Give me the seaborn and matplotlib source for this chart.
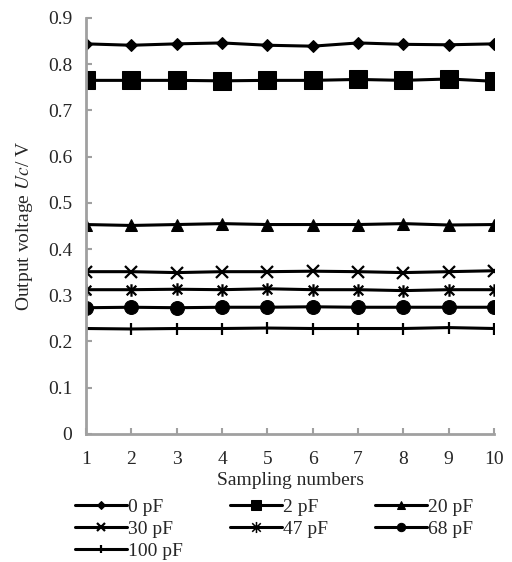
import numpy as np
import seaborn as sns
import matplotlib.pyplot as plt
from matplotlib.path import Path

sns.set_style("white")
plt.rcParams["font.family"] = ["Liberation Serif", "DejaVu Serif"]
plt.rcParams["mathtext.fontset"] = "stix"

samples = np.arange(1, 11)
labels = ["0 pF", "2 pF", "20 pF", "30 pF", "47 pF", "68 pF", "100 pF"]
v_0pf = [0.844, 0.841, 0.844, 0.846, 0.841, 0.839, 0.846, 0.843, 0.842, 0.844]
v_2pf = [0.765, 0.765, 0.765, 0.764, 0.765, 0.765, 0.767, 0.765, 0.768, 0.763]
v_20pf = [0.453, 0.451, 0.453, 0.455, 0.453, 0.453, 0.453, 0.455, 0.452, 0.453]
v_30pf = [0.351, 0.351, 0.349, 0.351, 0.351, 0.352, 0.351, 0.349, 0.351, 0.353]
v_47pf = [0.312, 0.312, 0.313, 0.312, 0.314, 0.312, 0.312, 0.310, 0.312, 0.312]
v_68pf = [0.273, 0.274, 0.273, 0.274, 0.274, 0.275, 0.274, 0.274, 0.274, 0.274]
v_100pf = [0.228, 0.227, 0.228, 0.228, 0.229, 0.228, 0.228, 0.228, 0.230, 0.228]
series = [v_0pf, v_2pf, v_20pf, v_30pf, v_47pf, v_68pf, v_100pf]

# excel-style asterisk: an x with a vertical stroke
asterisk = Path(
    [(-1, -1), (1, 1), (-1, 1), (1, -1), (0, -1.3), (0, 1.3)],
    [Path.MOVETO, Path.LINETO, Path.MOVETO, Path.LINETO, Path.MOVETO, Path.LINETO],
)
styles = [
    dict(marker="D", markersize=6.5),
    dict(marker="s", markersize=13),
    dict(marker="^", markersize=9),
    dict(marker="x", markersize=9, markeredgewidth=1.6),
    dict(marker=asterisk, markersize=9, markeredgewidth=1.6),
    dict(marker="o", markersize=10),
    dict(marker="|", markersize=9, markeredgewidth=1.6),
]

fig, ax = plt.subplots(figsize=(5.12, 5.62), dpi=100)
fig.subplots_adjust(left=0.168, right=0.965, top=0.968, bottom=0.228)

for vals, lab, st in zip(series, labels, styles):
    sns.lineplot(x=samples, y=vals, color="black", linewidth=2.2, label=lab,
                 markeredgecolor="black", ax=ax, **st)

ax.set_xlim(1, 10)
ax.set_ylim(0, 0.9)
ax.set_xticks(samples)
ax.set_yticks(np.arange(0, 0.91, 0.1))
ax.set_yticklabels(["0"] + [f"{t:.1f}" for t in np.arange(0.1, 0.91, 0.1)])
ax.tick_params(direction="in", length=4, width=1.5, color="#a0a0a0",
               labelsize=14, pad=10, left=True, bottom=True)
ax.tick_params(axis="x", pad=12)
for side in ["top", "right"]:
    ax.spines[side].set_visible(False)
for side in ["left", "bottom"]:
    ax.spines[side].set_color("#a0a0a0")
    ax.spines[side].set_linewidth(2)

ax.set_xlabel("Sampling numbers", fontsize=14, labelpad=3)
ax.set_ylabel("Output voltage $Uc$/ V", fontsize=14, labelpad=9)

# legend fills column by column, reorder so it reads row by row
ax.get_legend().remove()
handles, labs = ax.get_legend_handles_labels()
order = [0, 3, 6, 1, 4, 2, 5]
leg = fig.legend([handles[i] for i in order], [labs[i] for i in order],
                 loc="upper left", bbox_to_anchor=(0.146, 0.113),
                 ncol=3, frameon=False, fontsize=14, handlelength=2.7, handletextpad=0.05,
                 columnspacing=2.4, labelspacing=0.22, markerscale=0.6,
                 borderaxespad=0, borderpad=0)
# the thin asterisk gets lost when scaled down, so size it by hand
for h, t in zip(leg.legend_handles, leg.get_texts()):
    if t.get_text() == "47 pF":
        h.set_markersize(8)
        h.set_markeredgewidth(1.1)

fig.savefig("out.png", dpi=100)
